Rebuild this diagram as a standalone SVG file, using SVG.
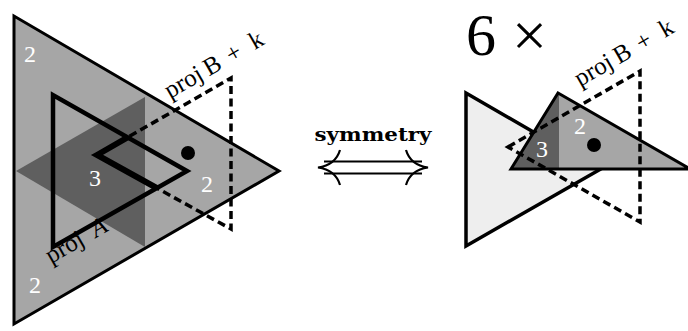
<svg xmlns="http://www.w3.org/2000/svg" width="688" height="331" viewBox="0 0 688 331">
<style>
.tri{stroke:#000;stroke-linejoin:miter}
.dash{fill:none;stroke:#000;stroke-width:3.5;stroke-dasharray:8 4.5}
.num{font-family:"Liberation Serif","DejaVu Serif",serif;font-size:24px;fill:#fff;text-anchor:middle}
.lbl{font-family:"Liberation Serif","DejaVu Serif",serif;font-size:25px;fill:#000}
</style>
<defs>
<clipPath id="clipA"><polygon points="53,95 53,247 187,171"/></clipPath>
</defs>
<rect width="688" height="331" fill="#fff"/>
<g id="left-figure">
  <polygon class="tri" points="14,16 14,324 279,171" fill="#a6a6a6" stroke-width="3"/>
  <polygon points="16,171 145,97 145,247" fill="#5f5f5f"/>
  <polygon points="53,95 53,247 187,171" fill="none" stroke="#000" stroke-width="4.5"/>
  <polygon class="dash" points="97,155 231,78 231,229"/>
  <polygon points="97,155 231,78 231,229" fill="none" stroke="#000" stroke-width="6" clip-path="url(#clipA)"/>
  <circle cx="188" cy="153" r="7"/>
  <text class="num" x="30" y="62">2</text>
  <text class="num" x="35" y="293">2</text>
  <text class="num" x="95" y="186">3</text>
  <text class="num" x="207" y="192">2</text>
  <g transform="translate(51,264) rotate(-30)"><text class="lbl" x="0" y="0">proj<tspan x="52" font-style="italic">A</tspan></text></g>
  <g transform="translate(170,99) rotate(-30)"><text class="lbl" x="0" y="0">proj<tspan x="45">B</tspan><tspan x="71">+</tspan><tspan x="98">k</tspan></text></g>
</g>
<g id="symmetry-arrow">
  <text x="373" y="141" font-family="DejaVu Serif, serif" font-weight="bold" font-size="18" text-anchor="middle" textLength="117" lengthAdjust="spacingAndGlyphs">symmetry</text>
  <g fill="none" stroke="#000" stroke-width="2.2">
    <line x1="324" y1="161.5" x2="422" y2="161.5"/>
    <line x1="324" y1="173.5" x2="422" y2="173.5"/>
    <path d="M340,150 C337,160 329,166 318,167.5 C329,169 337,175 340,185"/>
    <path d="M406,150 C409,160 417,166 428,167.5 C417,169 409,175 406,185"/>
  </g>
</g>
<g id="right-figure">
  <text x="466" y="55" font-family="Liberation Serif, DejaVu Serif, serif" font-size="60">6</text>
  <text x="512" y="56" font-family="Liberation Serif, DejaVu Serif, serif" font-size="62">×</text>
  <polygon class="tri" points="466,93 466,246 599,170" fill="#eeeeee" stroke-width="3.5"/>
  <polygon points="511,169 558,93 688,169" fill="#a6a6a6"/>
  <polygon points="511,169 558,93 559,93 559,169" fill="#5f5f5f"/>
  <polygon class="tri" points="511,169 558,93 690,169" fill="none" stroke-width="3"/>
  <polygon class="dash" points="508,147 640,71 640,222"/>
  <circle cx="594" cy="145" r="7"/>
  <text class="num" x="580" y="134">2</text>
  <text class="num" x="542" y="157">3</text>
  <g transform="translate(580,87) rotate(-30)"><text class="lbl" x="0" y="0">proj<tspan x="45">B</tspan><tspan x="71">+</tspan><tspan x="98">k</tspan></text></g>
</g>
</svg>
